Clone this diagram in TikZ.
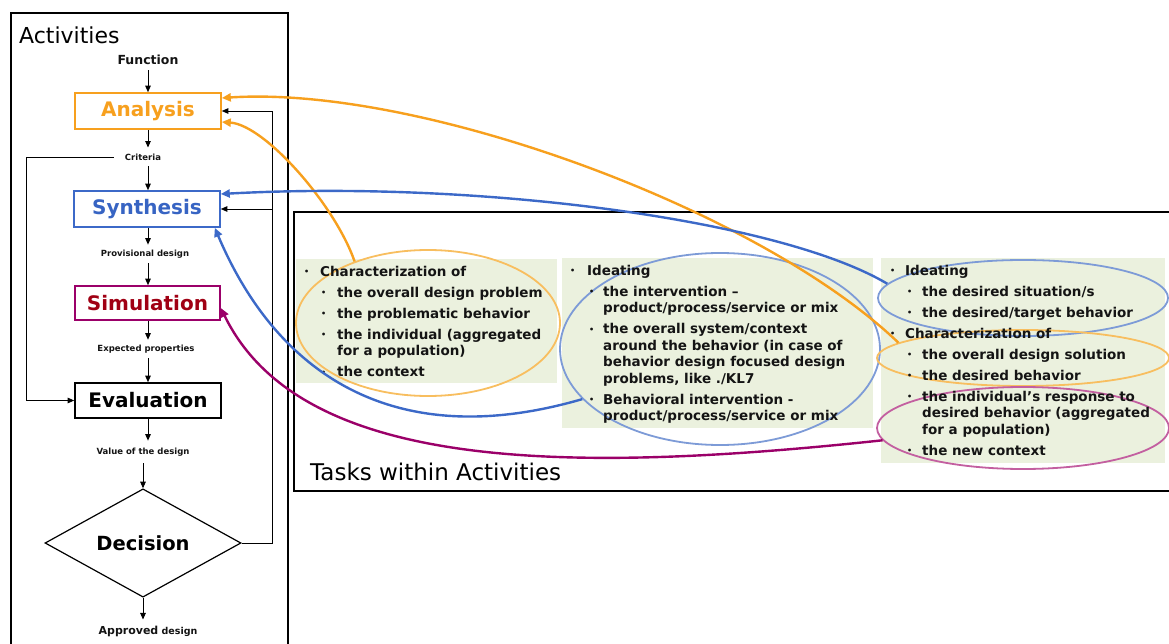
\documentclass[tikz,border=0pt]{standalone}
\usepackage{fontspec}
\setmainfont{DejaVu Sans}
\usetikzlibrary{shapes.geometric,arrows.meta,calc}
\definecolor{orA}{RGB}{247,160,30}
\definecolor{orL}{RGB}{248,190,95}
\definecolor{blA}{RGB}{60,105,200}
\definecolor{blL}{RGB}{125,155,215}
\definecolor{blT}{RGB}{55,100,195}
\definecolor{puA}{RGB}{155,0,105}
\definecolor{puL}{RGB}{195,95,160}
\definecolor{reT}{RGB}{160,0,20}
\definecolor{pgreen}{RGB}{235,241,222}
\definecolor{txt}{RGB}{20,20,20}
\newcommand\bul{\raisebox{1.5pt}{\fontsize{8}{8}\selectfont •}}
\newcommand\bA[1]{\makebox[#1][l]{\bul}}
\newcommand\bB[2]{\hspace*{#1}\makebox[#2][l]{\bul}}
\newcommand\cB[1]{\hspace*{#1}}
\newcommand\isep{4.5pt}
\begin{document}
\begin{tikzpicture}[x=1pt,y=-1pt,
  flowbox/.style={draw, line width=1.6pt, minimum width=146pt, minimum height=36pt, inner sep=0pt, font=\fontsize{20}{24}\selectfont\bfseries},
  smalllbl/.style={font=\fontsize{8.5}{10}\selectfont\bfseries, inner xsep=2pt, inner ysep=5pt, text=txt},
  blk/.style={draw=black, line width=0.9pt, -{Triangle[length=6.5pt,width=5.5pt]}},
  ptext/.style={font=\fontsize{13.5}{16.5}\selectfont\bfseries, align=left, anchor=north west, inner sep=0pt, text=txt},
  oell/.style={draw=orL, line width=1.8pt, ellipse, inner sep=0pt},
  bell/.style={draw=blL, line width=1.8pt, ellipse, inner sep=0pt},
  pell/.style={draw=puL, line width=1.8pt, ellipse, inner sep=0pt},
  curve/.style={line width=2.4pt},
  big/.style={font=\fontsize{22}{24}\selectfont, anchor=base west, inner sep=0pt}
]
\useasboundingbox (0,0) rectangle (1169,644);
\fill[white] (0,0) rectangle (1169,644);

% frames
\draw[line width=2.2pt] (11,13) rectangle (288,670);
\draw[line width=2pt] (294,212) rectangle (1190,491);
\node[big] (act) at (19,44) {Activities};
\node[big, font=\fontsize{23}{24}\selectfont] (tasks) at (310,480) {Tasks within Activities};

% flow chart
\coordinate (col) at (148,0);
\coordinate (col2) at (143,0);
\node[smalllbl, font=\fontsize{12.5}{14}\selectfont\bfseries] (fun) at (148,60) {Function};
\node[flowbox, draw=orA, text=orA] (ana) at (148,111) {Analysis};
\node[smalllbl, inner xsep=11pt, inner ysep=6pt] (crit) at (143,157) {Criteria};
\node[flowbox, draw=blA, text=blT] (syn) at (147,209) {Synthesis};
\node[smalllbl] (prov) at (145,254) {Provisional design};
\node[flowbox, draw=puA, text=reT, minimum height=34pt, minimum width=145pt] (sim) at (147.5,303) {Simulation};
\node[smalllbl] (expp) at (146,349) {Expected properties};
\node[flowbox, draw=black, text=black, minimum height=35pt] (eva) at (148,400.5) {Evaluation};
\node[smalllbl, inner ysep=7pt] (val) at (143,452) {Value of the design};
\node[diamond, draw, line width=1.2pt, minimum width=196pt, minimum height=101pt, inner sep=0pt, font=\fontsize{19.5}{22}\selectfont\bfseries] (dec) at (143,543) {Decision};
\node[smalllbl, inner ysep=6pt, font=\fontsize{9.5}{10}\selectfont\bfseries] (appr) at (148,631) {{\fontsize{11}{10}\selectfont Approved} design};

\draw[blk] (col |- fun.south) -- (col |- ana.north);
\draw[blk] (col |- ana.south) -- (col |- crit.north);
\draw[blk] (col |- crit.south) -- (col |- syn.north);
\draw[blk] (col |- syn.south) -- (col |- prov.north);
\draw[blk] (col |- prov.south) -- (col |- sim.north);
\draw[blk] (col |- sim.south) -- (col |- expp.north);
\draw[blk] (col |- expp.south) -- (col |- eva.north);
\draw[blk] (col |- eva.south) -- (col |- val.north);
\draw[blk] (col2 |- val.south) -- (dec.north);
\draw[blk] (dec.south) -- (col2 |- appr.north);
\coordinate (cl) at (26,0);
\coordinate (fb) at (272,0);
\draw[blk] (crit.west) -- (cl |- crit.west) |- (eva.west);
\draw[blk] (dec.east) -| (fb |- ana.east) -- (ana.east);
\draw[blk] (fb |- syn.east) -- (syn.east);

% panels
\fill[pgreen] (296,259) rectangle (557,383);
\fill[pgreen] (562,258) rectangle (873,428);
\fill[pgreen] (881,258) rectangle (1165,463);

% ellipses
\node[oell, minimum width=264pt, minimum height=146pt] (e1) at (428,323) {};
\node[bell, minimum width=320pt, minimum height=192pt] (e2) at (720,349) {};
\node[bell, minimum width=290pt, minimum height=76pt] (e3) at (1023,298) {};
\node[oell, minimum width=292pt, minimum height=56pt] (e4) at (1023,358) {};
\node[pell, minimum width=292pt, minimum height=82pt] (e5) at (1023,428) {};

% panel texts
\node[ptext] (t1) at (304,266) {\bA{16pt}Characterization of\\[\isep]
\bB{17pt}{16pt}the overall design problem\\[\isep]
\bB{17pt}{16pt}the problematic behavior\\[\isep]
\bB{17pt}{16pt}the individual (aggregated\\
\cB{33pt}for a population)\\[\isep]
\bB{17pt}{16pt}the context};

\node[ptext] (t2) at (570,265) {\bA{17pt}Ideating\\[\isep]
\bB{19pt}{14pt}the intervention –\\
\cB{33pt}product/process/service or mix\\[\isep]
\bB{19pt}{14pt}the overall system/context\\
\cB{33pt}around the behavior (in case of\\
\cB{33pt}behavior design focused design\\
\cB{33pt}problems, like ./KL7\\[\isep]
\bB{19pt}{14pt}Behavioral intervention -\\
\cB{33pt}product/process/service or mix};

\node[ptext] (t3) at (890,265) {\bA{15pt}Ideating\\[\isep]
\bB{17pt}{15pt}the desired situation/s\\[\isep]
\bB{17pt}{15pt}the desired/target behavior\\[\isep]
\bA{15pt}Characterization of\\[\isep]
\bB{17pt}{15pt}the overall design solution\\[\isep]
\bB{17pt}{15pt}the desired behavior\\[\isep]
\bB{17pt}{15pt}the individual’s response to\\
\cB{32pt}desired behavior (aggregated\\
\cB{32pt}for a population)\\[\isep]
\bB{17pt}{15pt}the new context};

% connectors
\draw[curve, draw=orA, -{Triangle[length=9pt,width=8pt,fill=orA]}] (e1.140) .. controls (335,205) and (265,125) .. ([yshift=-11pt]ana.east);
\draw[curve, draw=orA, -{Triangle[length=9pt,width=8pt,fill=orA]}] (e4.173) .. controls (760,210) and (420,85) .. ([yshift=13pt]ana.east);
\draw[curve, draw=blA, -{Triangle[length=9pt,width=8pt,fill=blA]}] (e3.174) .. controls (780,220) and (480,180) .. ([yshift=15pt]syn.east);
\draw[curve, draw=blA, -{Triangle[length=9pt,width=8pt,fill=blA]}] (e2.200) .. controls (390,455) and (275,370) .. ([xshift=-6pt]syn.south east);
\draw[curve, draw=puA, -{Triangle[length=9pt,width=8pt,fill=puA]}] (e5.185) .. controls (560,475) and (300,470) .. ([yshift=-5pt]sim.east);
\end{tikzpicture}
\end{document}
